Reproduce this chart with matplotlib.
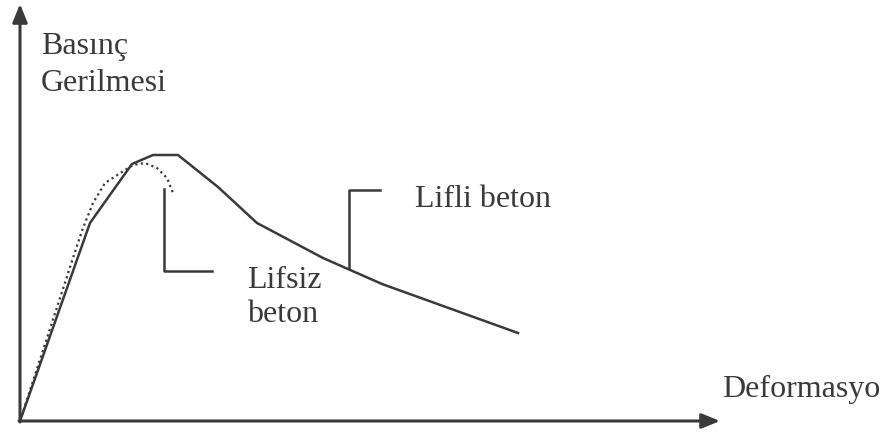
import matplotlib
matplotlib.use("Agg")
import matplotlib.pyplot as plt

# Data (x: deformation, y: stress) in arbitrary units, origin at axes corner
lifli_x = [0, 70, 92, 112, 133, 158, 198, 237, 303, 362, 498]
lifli_y = [0, 198, 229, 257, 266, 266, 234, 198, 163, 137, 88]

lifsiz_x = [0, 53, 63, 73, 85, 102, 113, 125, 137, 147, 153]
lifsiz_y = [0, 163, 193, 218, 238, 249, 256, 258, 253, 243, 228]

C = "#3a3a3c"
fig = plt.figure(figsize=(8.9, 4.32), dpi=100)
ax = fig.add_axes([0, 0, 1, 1])
ax.set_xlim(-20, 870)
ax.set_ylim(-11, 421)
ax.axis("off")

# axes with arrows
ax.annotate("", xy=(700, 0), xytext=(-1, 0),
            arrowprops=dict(arrowstyle="-|>,head_length=1.1,head_width=0.45", color=C, lw=2.2, shrinkA=0, shrinkB=0))
ax.annotate("", xy=(0, 417), xytext=(0, -1),
            arrowprops=dict(arrowstyle="-|>,head_length=1.1,head_width=0.45", color=C, lw=2.2, shrinkA=0, shrinkB=0))

ax.plot(lifli_x, lifli_y, color=C, lw=1.8, solid_joinstyle="miter")
ax.plot(lifsiz_x, lifsiz_y, color=C, lw=1.6, linestyle=(0, (1, 1.5)))

# leader lines
ax.plot([144, 144, 192], [232, 150, 150], color=C, lw=1.8)
ax.plot([329, 329, 360], [153, 231, 231], color=C, lw=1.8)

fam = ["Liberation Serif", "DejaVu Serif"]
fs = 23
ax.text(21, 367, "Basınç", fontsize=fs, family=fam, color=C, va="baseline")
ax.text(21, 330, "Gerilmesi", fontsize=fs, family=fam, color=C, va="baseline")
ax.text(395, 214, "Lifli beton", fontsize=fs, family=fam, color=C, va="baseline")
ax.text(227, 133, "Lifsiz", fontsize=fs, family=fam, color=C, va="baseline")
ax.text(227, 99, "beton", fontsize=fs, family=fam, color=C, va="baseline")
ax.text(702, 24, "Deformasyo", fontsize=fs, family=fam, color=C, va="baseline")

fig.savefig("out.png", dpi=100)
